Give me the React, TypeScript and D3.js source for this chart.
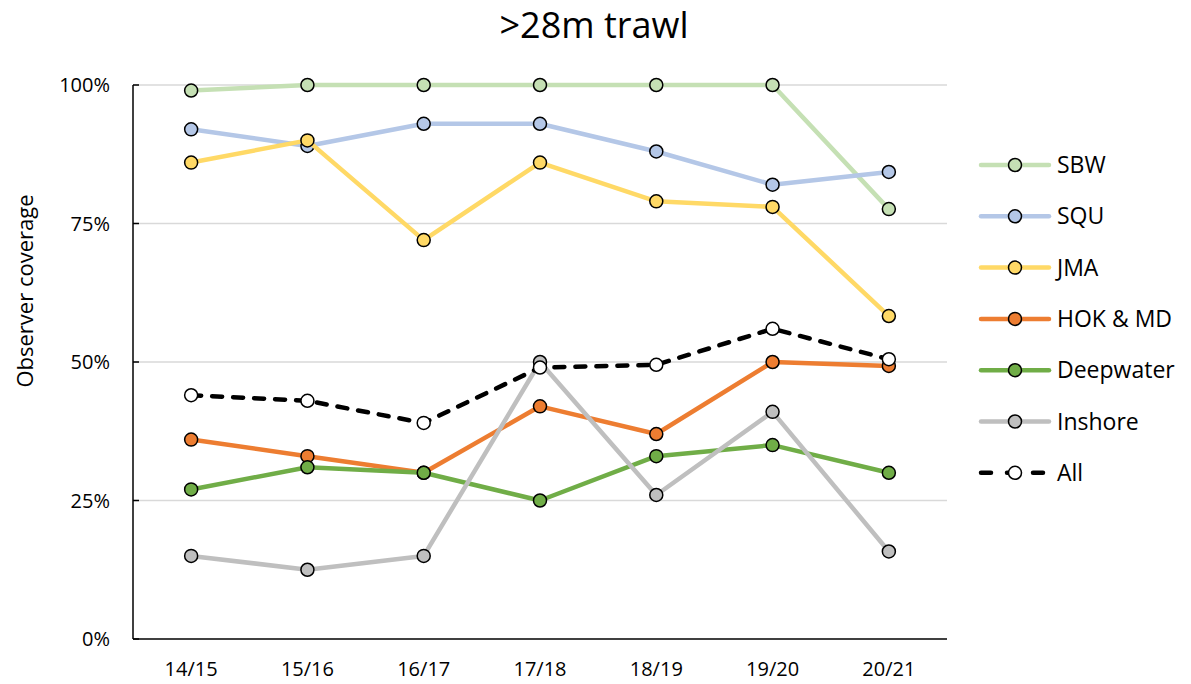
import React, { useRef, useEffect } from "react";
import * as d3 from "d3";

const seasons = ["14/15", "15/16", "16/17", "17/18", "18/19", "19/20", "20/21"];
const sbw = [99, 100, 100, 100, 100, 100, 77.6];
const squ = [92, 89, 93, 93, 88, 82, 84.3];
const jma = [86, 90, 72, 86, 79, 78, 58.3];
const hok = [36, 33, 30, 42, 37, 50, 49.3];
const deepwater = [27, 31, 30, 25, 33, 35, 30];
const inshore = [15, 12.5, 15, 50, 26, 41, 15.8];
const all = [44, 43, 39, 49, 49.5, 56, 50.5];
const yTicks = [0, 25, 50, 75, 100];

const seriesNames = ["SBW", "SQU", "JMA", "HOK & MD", "Deepwater", "Inshore", "All"];
const seriesValues = [sbw, squ, jma, hok, deepwater, inshore, all];
const seriesColors = ["#C5E0B4", "#B4C7E7", "#FFD966", "#ED7D31", "#70AD47", "#BFBFBF", "#000000"];

export default function App() {
  const ref = useRef<SVGSVGElement>(null);

  useEffect(() => {
    if (!ref.current) return;
    const svg = d3.select(ref.current);
    svg.selectAll("*").remove();
    const width = 1191;
    const height = 684;
    const left = 133, right = 947, top = 85, bottom = 639;
    const font = "'Open Sans', sans-serif";

    const x = d3.scalePoint<string>().domain(seasons).range([left, right]).padding(0.5);
    const y = d3.scaleLinear().domain([0, 100]).range([bottom, top]);

    svg.attr("width", width).attr("height", height);
    svg.append("rect").attr("width", width).attr("height", height).attr("fill", "#fff");

    // title
    svg.append("text")
      .attr("x", 594).attr("y", 38)
      .attr("text-anchor", "middle")
      .attr("font-family", font).attr("font-size", 36)
      .attr("fill", "#000")
      .text(">28m trawl");

    // gridlines
    svg.append("g").selectAll("line").data(yTicks.filter(t => t > 0)).join("line")
      .attr("x1", left).attr("x2", right)
      .attr("y1", d => y(d)).attr("y2", d => y(d))
      .attr("stroke", "#d9d9d9").attr("stroke-width", 1.5);

    // axes
    svg.append("line").attr("x1", left).attr("x2", left).attr("y1", top).attr("y2", bottom)
      .attr("stroke", "#000").attr("stroke-width", 1.5);
    svg.append("line").attr("x1", left).attr("x2", right).attr("y1", bottom).attr("y2", bottom)
      .attr("stroke", "#000").attr("stroke-width", 1.5);
    svg.append("g").selectAll("line").data(yTicks).join("line")
      .attr("x1", left).attr("x2", left + 6)
      .attr("y1", d => y(d)).attr("y2", d => y(d))
      .attr("stroke", "#000").attr("stroke-width", 1.5);

    svg.append("g").selectAll("text").data(yTicks).join("text")
      .attr("x", 110).attr("y", d => y(d) + 7)
      .attr("text-anchor", "end")
      .attr("font-family", font).attr("font-size", 20)
      .text(d => d + "%");

    svg.append("g").selectAll("text").data(seasons).join("text")
      .attr("x", d => x(d)!).attr("y", 676)
      .attr("text-anchor", "middle")
      .attr("font-family", font).attr("font-size", 20)
      .text(d => d);

    svg.append("text")
      .attr("transform", `translate(33, 291) rotate(-90)`)
      .attr("text-anchor", "middle")
      .attr("font-family", font).attr("font-size", 22)
      .text("Observer coverage");

    const line = d3.line<number>()
      .x((_, i) => x(seasons[i])!)
      .y(d => y(d));

    seriesValues.forEach((vals, si) => {
      const isAll = seriesNames[si] === "All";
      const color = seriesColors[si];
      const g = svg.append("g");
      g.append("path")
        .datum(vals)
        .attr("fill", "none")
        .attr("stroke", color)
        .attr("stroke-width", 4.5)
        .attr("stroke-linejoin", "round")
        .attr("stroke-linecap", isAll ? "round" : "butt")
        .attr("stroke-dasharray", isAll ? "10,11" : null)
        .attr("d", line);
      g.selectAll("circle").data(vals).join("circle")
        .attr("cx", (_, i) => x(seasons[i])!)
        .attr("cy", d => y(d))
        .attr("r", 6.5)
        .attr("fill", isAll ? "#fff" : color)
        .attr("stroke", "#000").attr("stroke-width", 1.5);
    });

    // legend
    const lg = svg.append("g");
    seriesNames.forEach((name, i) => {
      const ly = 165 + i * 51.3;
      const isAll = name === "All";
      const color = seriesColors[i];
      lg.append("line")
        .attr("x1", 981).attr("x2", 1049).attr("y1", ly).attr("y2", ly)
        .attr("stroke", color).attr("stroke-width", 4.5)
        .attr("stroke-linecap", "round")
        .attr("stroke-dasharray", isAll ? "10,16" : null);
      lg.append("circle")
        .attr("cx", 1015).attr("cy", ly).attr("r", 6.5)
        .attr("fill", isAll ? "#fff" : color)
        .attr("stroke", "#000").attr("stroke-width", 1.5);
      lg.append("text")
        .attr("x", 1057).attr("y", ly + 8)
        .attr("font-family", font).attr("font-size", 23)
        .text(name);
    });
  }, []);

  return (
    <div style={{ position: "absolute", left: 0, top: 0 }}>
      <svg ref={ref} />
    </div>
  );
}
